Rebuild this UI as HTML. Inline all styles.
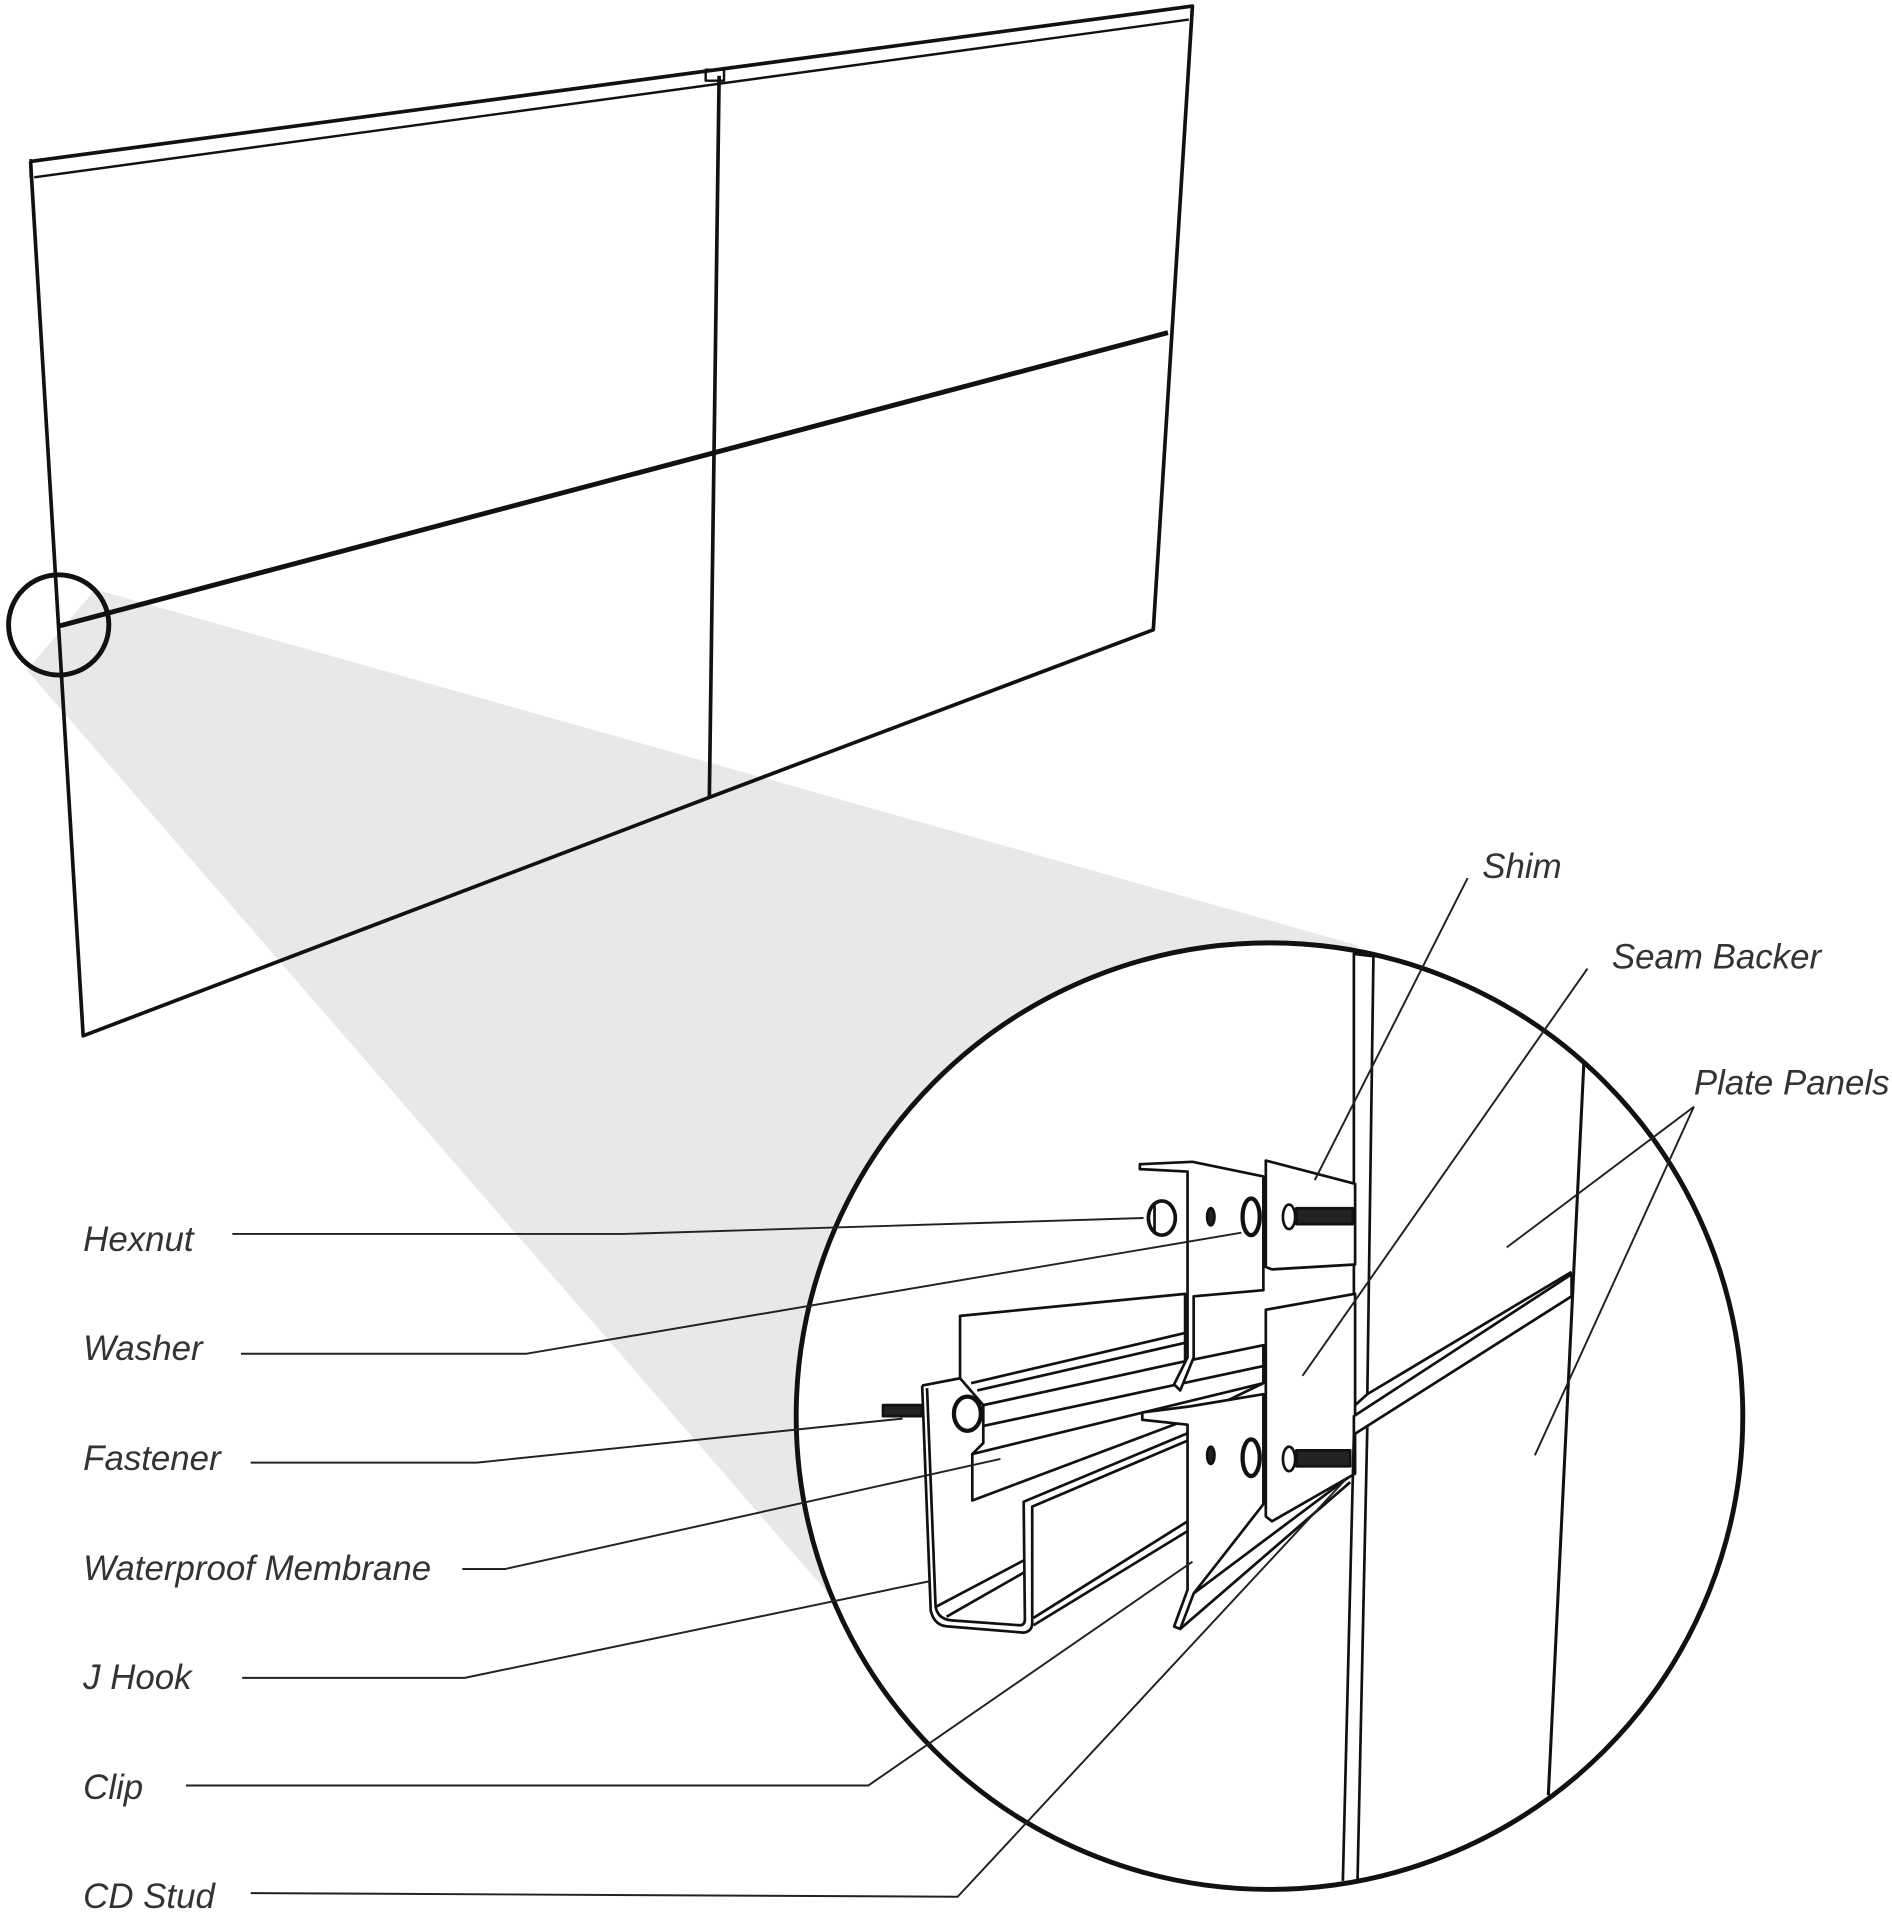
<!DOCTYPE html>
<html><head><meta charset="utf-8"><style>
html,body{margin:0;padding:0;background:#fff;}
svg{display:block;}
text{font-family:"Liberation Sans",sans-serif;font-style:italic;font-size:28.5px;fill:#333;}
</style></head><body>
<svg width="1892" height="1920" viewBox="0 0 1547 1570" preserveAspectRatio="none" xmlns="http://www.w3.org/2000/svg">
<polygon points="78,482 1110,773 1038,1158 685,1312 22,548" fill="#e8e8e8"/>
<g stroke="#111" stroke-width="3" fill="none" stroke-linejoin="round">
<polyline points="25,132 975,5 943,515 580,652 68,847 25,132"/>
<line x1="28" y1="145" x2="972" y2="16" stroke-width="2"/>
<line x1="25" y1="130" x2="25" y2="145" stroke-width="2"/>
<rect x="577" y="57" width="15" height="9" stroke-width="2"/>
<line x1="588" y1="62" x2="580" y2="652"/>
<line x1="48" y1="512" x2="955" y2="272" stroke-width="4"/>
<circle cx="48" cy="511" r="41" stroke-width="4"/>
</g>
<circle cx="1038" cy="1158" r="387" fill="#fff" stroke="#111" stroke-width="4"/>
<g stroke="#111" stroke-width="2.2" fill="none" stroke-linejoin="round">
<path d="M754,1133 L761,1317 Q764,1330 776,1330 L837,1335 Q844,1334 844,1327 L844,1232 L971,1178 M758,1135 L765,1314 Q767,1324 778,1325 L834,1329 Q838,1329 838,1324 L837,1228 L971,1172" fill="#fff"/>
<line x1="754" y1="1133" x2="785" y2="1127"/>
<line x1="765" y1="1314" x2="837" y2="1276"/>
<line x1="774" y1="1322" x2="837" y2="1286"/>
<line x1="845" y1="1323" x2="971" y2="1244"/>
<line x1="845" y1="1329" x2="971" y2="1252"/>
<polygon points="785,1076 969,1058 969,1114 804,1149 785,1127" fill="#fff"/>
<line x1="794" y1="1131" x2="969" y2="1090"/>
<line x1="799" y1="1137" x2="969" y2="1098"/>
<polygon points="804,1149 965,1114 1033,1100 1033,1131 973,1160 795,1227 795,1189 804,1180" fill="#fff"/>
<line x1="804" y1="1166" x2="1033" y2="1117"/>
<line x1="795" y1="1189" x2="1033" y2="1131"/>
<polygon points="932,952 975,950 1033,962 1033,1055 976,1060 976,1110 965,1137 960,1132 971,1110 971,958 932,956" fill="#fff"/>
<polygon points="934,1155 973,1150 1033,1140 1033,1230 976,1303 965,1332 960,1330 971,1300 971,1165 934,1161" fill="#fff"/>
<polyline points="965,1332 1104,1212"/>
<polyline points="976,1303 1104,1207"/>
<polygon points="1107,780 1123,782 1118,1140 1107,1150" fill="#fff"/>
<line x1="1295" y1="870" x2="1266" y2="1468" stroke-width="2.5"/>
<polyline points="1118,1140 1285,1040"/>
<polygon points="1035,949 1108,968 1108,1034 1040,1038 1035,1036" fill="#fff"/>
<polygon points="1035,1071 1108,1058 1108,1205 1040,1244 1035,1240" fill="#fff"/>
<polygon points="1107,1173 1285,1060 1285,1042 1107,1158" fill="#fff"/>
<polyline points="1107,1173 1098,1538"/>
<line x1="1118" y1="1166" x2="1110" y2="1537"/>
<rect x="1060" y="988" width="46" height="13" fill="#222"/>
<rect x="1060" y="1186" width="44" height="13" fill="#222"/>
<ellipse cx="1054" cy="995" rx="5" ry="10"/>
<ellipse cx="1054" cy="1193" rx="5" ry="10"/>
<ellipse cx="1023" cy="995" rx="7" ry="15" stroke-width="3.5"/>
<ellipse cx="1023" cy="1192" rx="7" ry="15" stroke-width="3.5"/>
<ellipse cx="990" cy="995" rx="3" ry="7" fill="#222"/>
<ellipse cx="990" cy="1190" rx="3" ry="7" fill="#222"/>
<ellipse cx="950" cy="996" rx="11" ry="14" fill="#fff" stroke-width="3"/>
<line x1="944" y1="984" x2="944" y2="1008"/>
<ellipse cx="791" cy="1156" rx="11" ry="14" fill="#fff" stroke-width="3.5"/>
<rect x="722" y="1149" width="32" height="9" fill="#222"/>
</g>
<g stroke="#222" stroke-width="1.6" fill="none">
<polyline points="190,1009 510,1009 935,996"/>
<polyline points="197,1107 430,1107 1015,1008"/>
<polyline points="205,1196 390,1196 738,1160"/>
<polyline points="378,1283 413,1283 818,1193"/>
<polyline points="198,1372 380,1372 760,1293"/>
<polyline points="152,1460 710,1460 975,1277"/>
<polyline points="205,1548 783,1551 1100,1210"/>
<line x1="1200" y1="718" x2="1075" y2="965"/>
<line x1="1298" y1="792" x2="1065" y2="1125"/>
<polyline points="1232,1020 1385,905 1255,1190"/>
</g>
<text x="68" y="1023">Hexnut</text>
<text x="68" y="1112">Washer</text>
<text x="68" y="1202">Fastener</text>
<text x="68" y="1292">Waterproof Membrane</text>
<text x="68" y="1381">J Hook</text>
<text x="68" y="1471">Clip</text>
<text x="68" y="1560">CD Stud</text>
<text x="1212" y="718">Shim</text>
<text x="1318" y="792">Seam Backer</text>
<text x="1385" y="895">Plate Panels</text>
</svg>
</body></html>
